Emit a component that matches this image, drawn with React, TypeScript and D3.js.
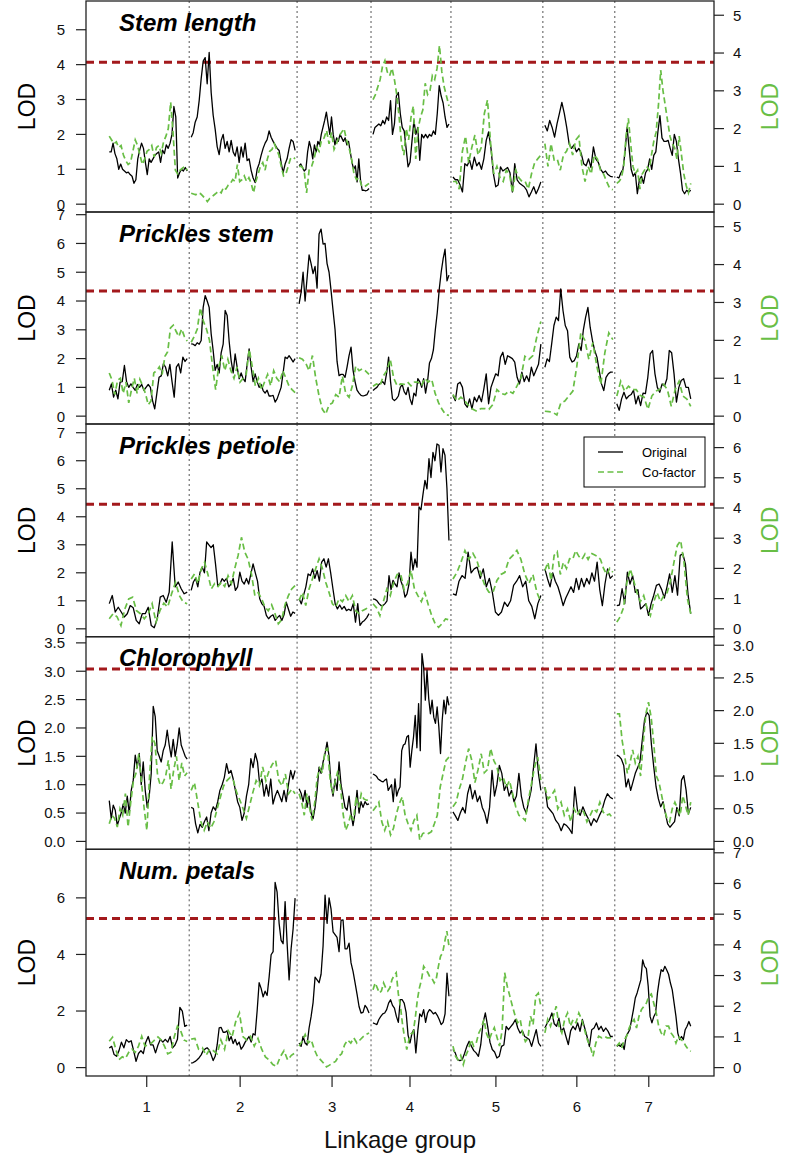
import React from "react";
import * as d3 from "d3";

// ---------- DATA ----------
const groupStart = [0, 82, 190, 264, 344, 436, 508];
const groupLen = [78, 104, 70, 76, 88, 68, 74];
const lgTicks = [37.5, 131, 223, 301, 387, 468, 540];
const lgLabels = ["1", "2", "3", "4", "5", "6", "7"];

const titles = ["Stem length", "Prickles stem", "Prickles petiole", "Chlorophyll", "Num. petals"];
const thresholds = [4.07, 4.35, 4.45, 3.04, 5.27];
const leftMax = [5.6, 6.82, 7.03, 3.47, 7.42];
const rightMax = [5.17, 5.18, 6.52, 3.01, 6.84];
const leftStep = [1, 1, 1, 0.5, 2];
const rightStep = [1, 1, 1, 0.5, 1];
const tickDecimals = [0, 0, 0, 1, 0];
const legendLabels = ["Original", "Co-factor"];

const stemOrig = [
  [1.5,1.5,1.75,1.45,1.3,1.0,1.15,1.0,0.95,0.9,0.92,0.85,0.8,0.6,0.7,1.3,1.55,1.75,1.6,1.2,0.85,1.3,1.2,1.3,1.4,1.45,1.5,1.2,1.55,1.45,1.7,1.6,1.75,2.0,2.8,2.5,0.75,0.9,1.0,0.95,1.05,0.95],
  [1.92,2.05,2.35,2.5,2.97,3.6,4.1,4.2,3.45,4.35,3.2,2.55,2.15,1.65,1.42,1.83,2.0,1.6,1.8,1.5,1.83,1.5,1.38,1.64,1.2,1.64,1.35,1.75,1.25,1.3,0.97,0.75,0.62,1.0,1.16,1.4,1.6,1.75,1.85,2.1,1.92,1.8,1.7,1.6,1.54,1.2,0.9,1.15,1.3,1.6,1.85,1.8,1.54],
  [1.1,1.15,1.05,0.95,1.0,1.5,1.8,1.6,1.3,1.7,1.5,1.8,1.7,2.0,2.2,2.4,2.64,2.3,2.0,2.5,2.0,1.7,1.9,1.8,2.0,1.9,1.8,1.9,1.7,1.8,1.5,1.2,1.0,1.1,0.64,1.3,0.7,0.4,0.4,0.38,0.4,0.45],
  [2.0,2.2,2.25,2.3,2.25,2.4,2.3,2.5,2.4,2.97,2.0,2.3,3.1,3.2,2.6,2.2,2.1,1.6,1.07,1.2,1.8,2.4,2.0,2.2,1.26,2.0,1.9,2.0,1.9,2.0,1.95,2.1,2.0,2.6,3.4,3.1,2.9,2.5,2.2,2.3],
  [0.78,0.7,0.7,0.55,0.35,1.16,1.1,1.26,1.0,1.35,1.1,1.2,1.0,1.3,1.83,2.07,1.6,0.88,0.5,0.55,1.07,0.95,1.0,1.05,0.9,0.35,1.16,0.7,0.6,0.55,0.5,0.4,0.21,0.35,0.5,0.3,0.45,0.64],
  [2.26,2.1,2.4,2.2,1.92,2.3,2.6,2.92,2.6,2.2,1.73,1.6,1.7,1.5,1.6,1.45,1.16,1.1,1.3,1.05,1.64,1.3,1.2,1.0,0.9,0.95,0.85,0.8,0.78],
  [0.78,0.75,0.9,1.0,1.5,2.2,1.6,1.0,0.8,0.9,0.3,0.7,0.8,0.6,0.9,1.0,1.3,1.0,1.4,1.5,2.07,2.54,1.9,1.8,1.8,1.83,1.6,1.4,2.0,1.8,1.3,0.9,0.4,0.3,0.4,0.35,0.4],
];
const stemCof = [
  [1.8,1.7,1.6,1.65,1.5,1.55,1.3,1.15,1.05,1.1,1.4,1.7,1.55,1.3,1.05,1.2,1.4,1.45,1.55,1.25,1.5,1.55,1.35,1.65,1.8,2.0,2.7,1.9,0.9,0.8,0.9,0.95,1.0,0.9],
  [0.29,0.27,0.25,0.3,0.28,0.22,0.15,0.07,0.15,0.2,0.25,0.3,0.35,0.3,0.45,0.4,0.5,0.55,0.65,0.6,1.05,0.6,0.65,0.75,0.6,0.7,0.55,0.3,0.6,0.8,1.0,1.1,0.9,1.2,1.4,1.45,1.6,1.45,1.3,1.0,0.75,0.8,1.0,1.2,1.25,1.2],
  [1.0,1.0,0.9,0.3,0.9,1.0,1.2,1.5,1.4,1.7,1.75,1.95,1.6,1.9,1.45,1.6,1.8,1.9,2.0,1.7,1.5,1.2,0.8,0.65,0.7,0.5,0.45,0.5,0.55],
  [2.77,2.9,3.1,3.3,3.65,3.8,3.5,3.4,3.6,3.3,2.9,2.3,1.6,1.3,2.0,1.7,2.3,2.6,1.2,2.0,2.3,2.5,3.2,2.9,3.0,3.4,3.3,3.6,4.2,3.5,3.1,2.85,2.6],
  [0.6,0.6,0.4,1.4,1.8,1.1,1.5,1.83,1.3,1.5,2.4,2.76,1.6,0.8,1.0,0.7,0.6,0.9,0.8,0.3,0.9,0.7,0.6,0.6,0.4,0.8,1.09,1.2,1.3],
  [1.6,1.0,1.6,1.17,1.2,0.9,1.3,1.4,1.6,1.3,1.7,1.8,1.0,0.6,1.0,0.8,1.3,1.2,0.9,0.8,0.6,0.42,0.38],
  [0.55,0.6,0.7,1.0,1.8,2.27,1.6,1.0,0.8,0.9,0.4,0.8,0.9,1.0,0.9,1.3,1.66,1.9,2.6,3.55,3.0,2.6,2.2,1.8,1.6,1.5,1.2,1.8,1.3,0.8,0.5,0.3,0.55],
];

const prickStemOrig = [
  [0.9,1.12,0.66,0.9,0.6,1.18,1.2,1.76,1.2,1.0,1.12,1.0,0.9,1.1,1.0,1.1,0.9,1.0,1.1,1.0,0.54,0.25,0.8,1.35,1.4,1.82,1.7,1.4,1.8,1.2,0.66,1.7,1.82,1.5,2.05,1.9,2.0],
  [2.51,2.5,2.45,2.55,2.5,2.63,3.78,4.19,4.0,3.78,2.86,2.28,1.59,1.8,1.5,2.2,2.5,3.67,3.5,2.6,1.93,1.5,2.16,1.7,1.3,1.5,1.3,1.2,1.8,2.34,1.7,1.2,1.47,1.2,1.0,1.1,0.89,0.8,0.9,0.7,0.7,0.72,0.49,0.6,0.8,1.0,1.5,2.05,2.0,2.1,2.0,1.88,2.0],
  [3.9,4.3,5.0,4.0,4.8,5.6,5.3,4.95,5.2,4.45,6.33,6.5,5.98,6.0,5.3,5.0,4.36,3.67,3.0,1.9,1.41,1.45,1.45,1.35,1.7,2.1,2.4,1.6,1.2,0.9,0.8,0.72,0.7,0.72,0.75,0.89],
  [0.89,0.95,1.0,1.1,1.15,1.2,1.1,1.5,2.05,1.2,0.6,0.54,0.6,0.7,1.0,1.1,0.85,0.75,1.0,0.6,0.4,0.8,0.7,1.3,1.2,1.0,1.3,0.8,1.2,1.85,2.0,2.3,3.0,3.6,4.4,5.0,5.46,5.8,4.7,4.9],
  [0.72,0.54,1.12,1.18,1.0,0.43,0.31,0.6,0.25,0.66,0.5,0.72,0.5,0.95,1.47,0.43,1.0,1.24,1.47,1.4,2.05,2.22,1.8,2.1,2.05,2.0,1.88,1.35,1.12,1.53,1.2,1.4,1.2,1.7,1.4,1.6,1.8,2.5],
  [1.7,1.99,1.9,2.51,3.15,3.44,3.32,4.42,3.67,3.15,2.97,2.05,1.88,1.93,2.1,2.51,2.28,3.0,3.44,3.78,3.09,2.63,2.28,2.05,1.59,1.12,0.89,1.35,1.47,1.53,1.53],
  [0.43,0.2,0.6,0.83,0.6,0.7,0.75,0.9,0.43,0.7,0.37,0.8,0.78,1.35,2.16,2.28,1.47,1.0,0.83,1.12,1.05,1.3,2.28,2.2,1.47,0.49,1.0,1.24,1.3,1.0,1.0,0.6],
];
const prickStemCof = [
  [1.14,0.95,0.57,0.95,1.0,0.6,0.9,0.35,0.7,1.0,0.6,0.97,0.8,0.6,0.3,0.4,1.14,1.2,1.3,1.1,1.58,1.7,2.33,2.4,2.24,2.1,2.3,2.1,1.98],
  [1.95,2.1,2.3,2.86,2.5,2.3,2.0,1.3,0.7,1.3,1.6,1.2,1.5,1.2,1.0,1.3,0.9,1.0,1.1,1.76,1.3,0.8,1.0,0.7,0.9,1.1,0.8,1.2,1.0,0.9,1.2,1.0,0.8,0.7,0.62],
  [1.54,1.5,1.4,1.2,1.6,1.0,0.53,0.18,0.05,0.3,0.35,0.57,0.5,1.06,0.6,0.5,0.8,1.32,1.2,1.25,1.19,1.1],
  [0.79,0.85,0.8,1.06,1.2,1.5,1.0,0.8,0.85,0.84,0.9,0.8,0.9,0.9,0.8,1.0,0.9,0.97,0.6,0.35,0.18,0.04,0.02],
  [0.57,0.4,0.5,0.4,0.26,0.18,0.13,0.2,0.2,0.18,0.31,0.7,0.6,0.57,0.66,0.6,0.79,1.0,1.58,1.5,1.6,2.1,2.5],
  [0.13,0.12,0.1,0.03,0.35,0.4,0.53,0.66,1.32,2.2,2.0,1.5,1.94,1.32,0.84,1.67,2.2,2.02],
  [0.53,0.92,0.66,0.79,0.7,0.7,0.55,0.5,0.18,0.53,0.66,0.7,0.84,0.7,0.26,0.7,0.92,0.53,0.45,0.26],
];

const prickPetOrig = [
  [0.9,1.19,0.6,0.77,0.6,0.42,0.54,0.83,0.75,0.3,0.18,0.54,0.54,0.77,0.12,0.04,0.36,1.13,1.19,0.95,1.31,3.1,1.5,1.67,1.43,1.25,1.31],
  [1.37,1.67,1.8,1.5,2.02,2.2,2.0,3.1,3.0,2.9,3.0,2.32,1.55,1.6,1.79,1.7,1.8,1.5,1.6,1.8,1.37,1.5,2.02,1.7,1.6,1.8,1.6,1.96,2.32,2.0,1.7,1.07,0.89,0.8,0.48,0.36,0.45,0.5,0.3,0.4,0.48,0.3,0.5,0.95,0.7,0.45,0.6,0.55],
  [1.07,0.89,1.2,1.5,1.96,1.9,2.14,1.8,2.08,1.7,2.38,2.5,2.2,2.5,2.0,1.43,0.89,0.71,0.85,0.7,0.8,0.65,0.7,0.65,0.9,0.24,0.9,0.12,0.24,0.3,0.4,0.54],
  [1.07,1.05,1.0,0.9,0.83,0.83,0.9,1.0,1.9,1.4,1.73,1.6,1.5,2.0,1.7,1.5,1.13,1.25,1.6,2.74,2.1,2.5,2.2,4.35,4.25,4.8,5.3,5.0,6.07,5.4,6.3,6.0,6.6,6.55,5.6,6.43,6.2,5.0,3.15],
  [1.25,1.2,1.7,1.9,1.8,2.74,2.0,2.14,2.2,1.8,2.14,1.5,1.8,1.3,0.6,0.48,0.6,0.95,0.8,1.0,1.55,1.7,1.9,1.5,1.7,1.0,0.8,0.36,0.9,1.19],
  [2.14,1.79,1.5,2.0,1.7,1.5,1.19,0.83,1.1,1.3,1.5,1.3,1.8,1.4,1.8,1.5,1.8,1.6,2.0,1.7,2.38,1.4,0.83,1.6,2.14,1.8,1.9],
  [0.83,0.85,1.43,0.9,2.02,1.6,1.9,1.3,1.4,0.71,0.8,0.9,0.48,0.9,1.2,1.55,1.6,1.4,1.1,1.5,1.96,1.3,1.9,1.2,2.62,2.68,2.3,1.2,0.54],
];
const prickPetCof = [
  [0.33,0.5,0.4,0.11,0.66,0.99,1.05,0.6,0.5,0.33,0.5,0.83,0.22,0.6,0.85,0.72,1.16,1.54,1.1,0.88,0.83],
  [1.65,1.82,1.5,1.98,2.2,1.8,1.32,1.5,1.4,1.54,1.4,1.76,1.5,2.0,2.43,3.03,2.54,2.3,1.8,1.1,1.2,1.0,0.72,0.6,0.8,0.5,0.17,0.3,0.8,1.1,1.32,1.43],
  [0.94,1.2,0.77,1.32,1.65,2.0,2.32,2.0,1.54,1.2,0.83,0.72,1.0,0.9,1.1,0.9,1.1,0.6,0.5,0.6,0.66,0.72],
  [0.83,0.7,0.44,0.9,1.32,1.1,1.54,1.8,1.82,1.3,1.5,1.93,1.32,1.1,0.9,1.2,0.8,0.44,0.17,0.05,0.17,0.33,0.3],
  [1.65,1.87,2.2,2.59,2.3,2.5,2.26,1.8,1.43,1.21,1.2,1.6,1.8,1.87,2.3,2.43,2.6,2.3,1.8,1.5,1.8,1.21,0.88],
  [1.93,2.2,1.6,2.43,2.55,1.8,2.2,2.0,2.32,2.3,2.59,2.4,2.3,2.48,2.3,2.5,2.45,2.4,2.3,2.0,1.8,2.0,1.87],
  [0.22,0.4,0.7,1.54,1.98,1.6,1.2,0.9,1.1,0.7,0.44,0.9,1.2,0.9,1.1,1.2,1.6,2.2,2.76,2.92,2.2,1.0,0.5],
];

const chlorOrig = [
  [0.72,0.4,0.64,0.55,0.28,0.4,0.5,0.66,0.5,0.8,0.5,0.9,1.08,1.52,1.3,1.55,1.0,1.4,0.9,0.6,0.8,1.2,2.38,2.2,1.6,1.5,1.4,1.6,1.7,1.96,1.7,1.49,1.8,1.5,1.7,2.0,1.7,1.6,1.5,1.45],
  [0.6,0.58,0.31,0.15,0.3,0.25,0.35,0.43,0.19,0.5,0.61,0.55,0.7,0.9,1.0,1.13,1.37,1.2,1.25,1.1,0.9,0.7,0.6,0.37,0.5,0.8,1.0,1.46,1.3,1.55,1.4,1.0,1.1,0.8,1.0,0.8,1.1,0.66,0.8,0.9,0.8,0.7,0.9,0.7,1.0,1.25,1.1,1.25],
  [0.93,0.85,0.7,0.9,0.6,0.8,0.5,0.4,0.6,0.9,1.31,1.2,1.4,1.55,1.75,1.5,1.0,0.8,1.1,0.9,1.4,1.0,0.8,0.6,0.55,0.8,0.5,0.28,0.5,0.9,0.5,0.7,0.6,0.7,0.65,0.66],
  [1.19,1.17,1.15,1.1,1.08,1.06,1.05,1.08,1.1,0.9,0.95,1.0,0.7,1.1,0.8,0.9,0.96,1.6,1.7,1.72,1.84,1.87,1.31,1.6,1.84,2.22,1.65,2.43,1.6,3.31,3.07,2.49,3.02,2.52,2.25,2.49,2.19,2.08,2.37,2.02,1.55,2.14,2.49,2.25,2.55,2.4],
  [0.52,0.45,0.37,0.5,0.6,0.5,0.84,1.0,0.75,0.9,0.7,0.8,0.6,0.5,0.32,0.6,1.25,0.8,1.0,1.34,1.2,0.9,1.0,0.8,0.9,0.7,0.8,1.2,0.8,0.6,0.5,0.7,0.9,1.31,1.72,1.2,0.9],
  [0.96,0.61,0.55,0.49,0.37,0.31,0.19,0.31,0.28,0.22,0.14,0.96,0.55,0.46,0.61,0.49,0.4,0.28,0.4,0.34,0.45,0.55,0.72,0.84,0.78,0.75],
  [1.52,1.5,1.45,1.34,0.96,1.1,0.9,1.05,1.2,1.3,1.4,1.78,2.14,2.28,2.22,1.7,1.31,0.96,0.75,0.61,0.7,0.5,0.31,0.25,0.3,0.35,0.6,0.45,1.08,1.16,0.9,0.49,0.6],
];
const chlorCof = [
  [0.27,0.4,0.35,0.22,0.5,0.4,0.73,0.22,0.6,0.93,1.05,1.34,0.9,0.5,0.17,1.0,1.6,1.5,1.0,0.86,0.9,1.0,1.24,0.8,1.1,1.3,0.93,1.2,1.0,1.05],
  [0.78,0.9,0.6,0.3,0.17,0.3,0.2,0.3,0.5,0.68,0.85,0.93,0.98,0.93,0.75,0.63,0.5,0.35,0.55,0.75,0.93,0.85,1.14,0.93,1.08,1.18,1.24,0.93,0.85,1.03,0.73,0.8,0.73],
  [0.73,0.6,0.4,0.73,0.52,0.32,0.58,0.98,1.12,1.05,1.39,1.42,0.93,0.73,0.93,1.08,0.83,0.42,0.17,0.27,0.42,0.32,0.68,0.52,0.73,0.65,0.63,0.63],
  [0.47,0.53,0.6,0.3,0.17,0.3,0.1,0.2,0.42,0.58,0.68,0.4,0.27,0.17,0.32,0.4,0.02,0.12,0.14,0.12,0.15,0.27,0.4,0.83,1.04,1.24,1.29],
  [0.53,0.6,0.8,0.95,1.2,1.42,1.24,0.9,1.1,1.34,1.05,1.1,1.42,1.24,1.14,0.93,0.98,0.83,0.93,0.73,0.53,0.4,0.37,0.32,0.63,0.88,1.14,1.29,0.93],
  [0.83,0.65,0.7,0.78,0.5,0.6,0.4,0.5,0.3,0.5,0.4,0.5,0.45,0.3,0.4,0.5,0.45,0.6,0.45,0.4,0.42,0.35],
  [1.95,1.95,1.55,1.3,1.04,1.2,1.4,1.2,1.3,1.0,1.5,1.95,2.13,1.9,1.5,1.0,0.9,0.7,0.5,0.35,0.3,0.5,0.6,0.5,0.4,0.7,0.55,0.4,0.6],
];

const petalsOrig = [
  [0.69,0.75,0.46,0.4,0.6,0.9,0.7,0.99,0.9,0.95,0.6,0.22,0.5,0.6,0.5,0.9,1.1,0.8,0.8,0.52,0.8,1.0,0.9,1.0,0.9,1.1,0.7,0.8,1.0,2.13,2.0,1.46,1.5],
  [0.16,0.18,0.22,0.28,0.35,0.45,0.6,0.66,0.7,0.62,0.45,0.25,0.4,0.8,1.4,1.42,1.25,1.25,1.3,0.95,1.1,0.85,1.0,0.8,0.9,0.65,0.75,0.9,1.0,1.1,0.9,1.2,1.15,2.0,3.0,2.8,2.5,2.7,2.55,3.2,3.99,4.1,6.55,6.2,5.1,4.5,4.38,5.87,4.4,3.1,4.2,4.9,5.99],
  [0.87,0.75,1.1,0.87,0.8,1.4,1.8,2.3,3.2,3.1,3.0,3.3,4.3,6.1,5.1,6.0,5.6,4.8,4.7,4.6,4.1,5.2,5.22,4.2,4.2,4.4,3.7,3.4,3.0,2.6,2.16,1.93,1.95,2.2,2.1,1.93],
  [1.58,1.55,1.52,1.7,1.81,1.9,1.93,2.05,2.28,2.4,2.2,2.1,1.81,1.6,2.4,2.4,2.28,1.95,1.15,0.87,1.22,1.34,0.52,1.3,1.9,1.8,2.05,1.6,1.93,2.05,1.99,1.9,1.95,1.85,1.7,1.52,1.6,1.9,3.34,2.52],
  [0.64,0.52,0.28,0.25,0.28,0.5,0.75,0.93,0.75,0.6,0.52,0.4,0.8,1.58,1.93,1.46,0.9,0.64,0.55,0.34,0.4,0.75,0.8,1.46,1.34,1.45,1.55,1.7,1.4,1.22,1.3,1.1,1.05,0.99,0.75,1.05,1.34,0.87,0.75],
  [1.4,1.58,1.7,1.93,1.55,1.46,1.75,1.28,1.4,1.1,0.81,1.3,1.46,1.34,1.58,1.28,1.7,1.4,1.1,0.75,1.34,1.4,1.58,1.34,1.46,1.28,1.4,1.28,1.1,1.1],
  [0.75,0.8,0.75,0.85,0.64,1.1,1.22,1.34,1.7,2.05,2.46,2.64,2.87,3.1,3.81,3.58,3.5,2.87,1.81,1.58,1.8,1.93,2.64,3.1,3.46,3.4,3.58,3.45,3.3,2.99,2.75,2.28,1.81,1.22,0.99,1.1,0.99,1.34,1.46,1.63,1.46],
];
const petalsCof = [
  [0.86,0.99,0.6,0.26,0.35,0.3,0.5,0.6,0.5,0.7,1.02,0.7,0.75,0.8,0.9,1.0,0.9,0.7,0.45,0.5,1.0,1.35,1.2,0.9,0.85],
  [0.93,0.95,0.6,0.65,0.4,0.6,0.55,0.45,0.9,0.6,1.2,1.0,1.5,1.78,1.0,0.9,1.02,0.7,0.95,0.6,0.35,0.25,0.1,0.04,0.35,0.55,0.25,0.4,0.48],
  [0.7,0.86,1.08,0.8,0.9,0.59,0.37,0.26,0.15,0.02,0.08,0.15,0.2,0.37,0.45,0.75,0.9,0.8,0.97,0.8,0.9,1.0,1.08,1.13],
  [2.54,2.76,2.6,2.43,2.5,2.76,2.6,2.5,2.6,2.87,3.0,3.09,2.4,2.0,1.4,0.95,0.59,0.9,1.1,1.13,1.6,2.2,2.6,2.87,3.3,3.2,3.09,2.95,2.9,2.76,2.9,3.3,3.63,3.74,4.1,4.45,3.96],
  [0.7,0.37,0.26,0.4,0.1,0.4,0.59,0.91,0.7,0.8,1.13,1.3,1.57,1.1,0.9,1.13,1.3,1.0,0.7,1.2,3.09,2.65,2.33,2.0,1.7,1.46,1.57,1.1,0.85,0.95,1.67,1.4,2.33,2.43,2.0],
  [1.13,1.57,1.35,1.67,2.0,1.35,1.13,1.57,1.78,1.35,1.57,1.46,1.78,1.57,1.24,0.91,0.7,0.37,0.8,1.02,0.97,1.02,0.97,0.97,0.97],
  [0.7,0.8,0.64,0.91,1.02,1.29,1.46,1.57,1.29,1.67,1.89,2.0,2.1,2.33,2.4,2.1,1.78,1.35,1.13,1.02,1.35,1.35,1.13,1.02,0.8,1.02,0.91,0.86,0.7,0.59,0.53],
];

const originalSeries = [stemOrig, prickStemOrig, prickPetOrig, chlorOrig, petalsOrig];
const cofactorSeries = [stemCof, prickStemCof, prickPetCof, chlorCof, petalsCof];

// ---------- STYLE / LAYOUT ----------
const W = 800;
const H = 1162;
const BOX_L = 86;
const BOX_R = 714;
const panelTop = [1, 212, 424, 636.7, 849.3];
const panelBottom = [212, 424, 636.7, 849.3, 1076];
const GREEN = "#68BE45";
const RED = "#A3191C";
const FONT = "'Liberation Sans', Arial, Helvetica, sans-serif";

const totalLen = groupStart[6] + groupLen[6];
const xScale = d3.scaleLinear().domain([-0.04 * totalLen, 1.04 * totalLen]).range([BOX_L, BOX_R]);

function seriesPoints(vals: number[], g: number): [number, number][] {
  const n = vals.length;
  return vals.map((v, i) => [groupStart[g] + (groupLen[g] * i) / (n - 1), v]);
}

function Panel({ idx }: { idx: number }) {
  const top = panelTop[idx];
  const bottom = panelBottom[idx];
  const yL = d3.scaleLinear().domain([-0.04 * leftMax[idx], 1.04 * leftMax[idx]]).range([bottom, top]);
  const yR = d3.scaleLinear().domain([-0.04 * rightMax[idx], 1.04 * rightMax[idx]]).range([bottom, top]);
  const lineL = d3.line<[number, number]>().x((d) => xScale(d[0])).y((d) => yL(d[1]));
  const lineR = d3.line<[number, number]>().x((d) => xScale(d[0])).y((d) => yR(d[1]));
  const ticksL = d3.range(0, 1.04 * leftMax[idx] + 1e-9, leftStep[idx]);
  const ticksR = d3.range(0, 1.04 * rightMax[idx] + 1e-9, rightStep[idx]);
  const fmt = (v: number) => v.toFixed(tickDecimals[idx]);
  const seps = groupStart.slice(1).map((s, i) => (groupStart[i] + groupLen[i] + s) / 2);
  const mid = (top + bottom) / 2;
  const clipId = `clip${idx}`;
  return (
    <g>
      <defs>
        <clipPath id={clipId}>
          <rect x={BOX_L} y={top} width={BOX_R - BOX_L} height={bottom - top} />
        </clipPath>
      </defs>
      <g clipPath={`url(#${clipId})`}>
        {seps.map((s, i) => (
          <line key={i} x1={xScale(s)} x2={xScale(s)} y1={top} y2={bottom} stroke="#555" strokeWidth={1} strokeDasharray="2,3" />
        ))}
        <line x1={BOX_L} x2={BOX_R} y1={yL(thresholds[idx])} y2={yL(thresholds[idx])} stroke={RED} strokeWidth={3} strokeDasharray="8,5" />
        {originalSeries[idx].map((vals, g) => (
          <path key={"o" + g} d={lineL(seriesPoints(vals, g)) || ""} fill="none" stroke="#000" strokeWidth={1.3} strokeLinejoin="round" />
        ))}
        {cofactorSeries[idx].map((vals, g) => (
          <path key={"c" + g} d={lineR(seriesPoints(vals, g)) || ""} fill="none" stroke={GREEN} strokeWidth={1.7} strokeDasharray="6,3.5" />
        ))}
      </g>
      <rect x={BOX_L} y={top} width={BOX_R - BOX_L} height={bottom - top} fill="none" stroke="#222" strokeWidth={1.3} />
      {ticksL.map((t) => (
        <g key={"l" + t}>
          <line x1={BOX_L - 10} x2={BOX_L} y1={yL(t)} y2={yL(t)} stroke="#222" strokeWidth={1.2} />
          <text x={65} y={yL(t)} dy="0.36em" textAnchor="end" fontSize={15} fontFamily={FONT} fill="#111">{fmt(t)}</text>
        </g>
      ))}
      {ticksR.map((t) => (
        <g key={"r" + t}>
          <line x1={BOX_R} x2={BOX_R + 10} y1={yR(t)} y2={yR(t)} stroke="#222" strokeWidth={1.2} />
          <text x={733} y={yR(t)} dy="0.36em" textAnchor="start" fontSize={15} fontFamily={FONT} fill="#111">{fmt(t)}</text>
        </g>
      ))}
      <text transform={`translate(35,${mid}) rotate(-90)`} textAnchor="middle" fontSize={23} fontFamily={FONT} fill="#000">LOD</text>
      <text transform={`translate(778,${mid}) rotate(-90)`} textAnchor="middle" fontSize={23} fontFamily={FONT} fill={GREEN}>LOD</text>
      <text x={119} y={top + 29.5} fontSize={24} fontWeight="bold" fontStyle="italic" fontFamily={FONT} fill="#000">{titles[idx]}</text>
      {idx === 2 && (
        <g>
          <rect x={584} y={437} width={121} height={50} fill="#fff" stroke="#000" strokeWidth={1} />
          <line x1={598} x2={623} y1={452} y2={452} stroke="#000" strokeWidth={1.3} />
          <line x1={598} x2={623} y1={472} y2={472} stroke={GREEN} strokeWidth={1.7} strokeDasharray="6,3.5" />
          <text x={642} y={452} dy="0.36em" fontSize={13} fontFamily={FONT}>{legendLabels[0]}</text>
          <text x={642} y={472} dy="0.36em" fontSize={13} fontFamily={FONT}>{legendLabels[1]}</text>
        </g>
      )}
    </g>
  );
}

export default function App() {
  const bottom = panelBottom[4];
  return (
    <div style={{ position: "absolute", left: 0, top: 0 }}>
      <svg width={W} height={H} viewBox={`0 0 ${W} ${H}`} style={{ display: "block", background: "#fff" }}>
        <rect x={0} y={0} width={W} height={H} fill="#fff" />
        {titles.map((_, i) => (
          <Panel key={i} idx={i} />
        ))}
        {lgTicks.map((t, i) => (
          <g key={"x" + i}>
            <line x1={xScale(t)} x2={xScale(t)} y1={bottom} y2={bottom + 11} stroke="#222" strokeWidth={1.2} />
            <text x={xScale(t)} y={bottom + 36} textAnchor="middle" fontSize={15} fontFamily={FONT} fill="#111">{lgLabels[i]}</text>
          </g>
        ))}
        <text x={400} y={1148} textAnchor="middle" fontSize={24} fontFamily={FONT} fill="#111">Linkage group</text>
      </svg>
    </div>
  );
}
